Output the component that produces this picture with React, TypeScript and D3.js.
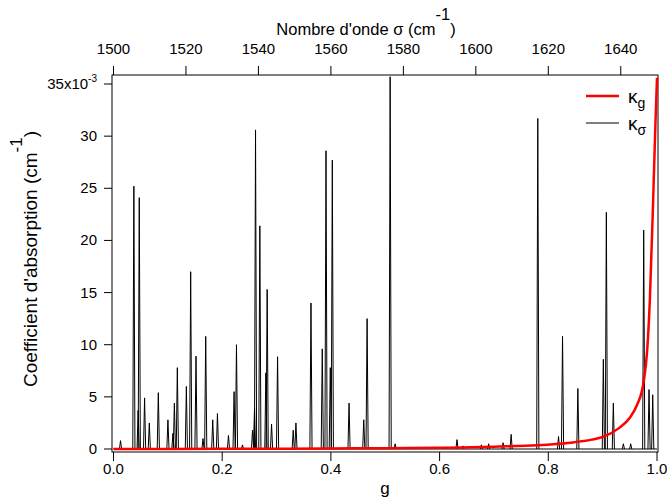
import React from 'react';
import * as d3 from 'd3';

// Absorption lines: wavenumber (cm-1) and peak value (x1e-3 cm-1)
const peakSigma = [
  1501.94, 1505.62, 1506.8, 1507.11, 1508.58, 1509.88, 1512.37, 1515.02, 1516.4, 1516.8,
  1517.62, 1520.11, 1521.3, 1522.77, 1524.7, 1525.45, 1527.39, 1528.69, 1531.73, 1533.28,
  1533.94, 1535.6, 1538.37, 1538.92, 1539.2, 1540.39, 1542.05, 1542.41, 1543.62, 1545.28,
  1549.6, 1550.35, 1554.5, 1557.62, 1558.65, 1559.83, 1560.39, 1565.01, 1569.07, 1569.99,
  1576.35, 1577.73, 1592.03, 1594.8, 1596.46, 1601.52, 1603.54, 1607.52, 1609.74, 1617.1,
  1622.82, 1623.93, 1628.16, 1635.19, 1636.02, 1637.95, 1640.72, 1642.74, 1646.33, 1647.8,
  1648.82,
];
const peakValue = [
  0.8, 25.2, 3.7, 24.1, 4.9, 2.5, 5.4, 2.8, 1.5, 4.4,
  7.8, 6.0, 17.0, 8.9, 1.0, 10.8, 2.8, 3.4, 1.3, 5.5,
  10.0, 0.4, 1.8, 4.0, 30.6, 21.4, 7.3, 15.3, 2.4, 8.85,
  1.8, 2.5, 14.0, 9.6, 28.6, 7.8, 27.7, 4.4, 2.8, 12.5,
  35.7, 0.5, 0.2, 0.9, 0.3, 0.4, 0.5, 0.6, 1.4, 31.7,
  1.2, 10.8, 5.8, 8.6, 22.7, 4.4, 0.5, 0.5, 21.0, 5.7,
  5.2,
];

// k-distribution curve (reordered absorption vs cumulative g)
const kgG = [0, 0.2, 0.4, 0.5, 0.6, 0.66, 0.7, 0.78, 0.84, 0.88, 0.9, 0.93, 0.95, 0.963, 0.975, 0.982, 0.987, 0.993, 0.997, 1.0];
const kgK = [0, 0.02, 0.05, 0.08, 0.12, 0.16, 0.22, 0.35, 0.6, 0.9, 1.15, 2.0, 3.0, 4.2, 6.3, 9.5, 14.5, 24, 31, 35.6];

const gTicks = [0, 0.2, 0.4, 0.6, 0.8, 1.0];
const sigmaTicks = [1500, 1520, 1540, 1560, 1580, 1600, 1620, 1640];
const kTicks = [0, 5, 10, 15, 20, 25, 30, 35];

const FONT = "'Liberation Sans', Arial, Helvetica, sans-serif";

export default function App() {
  const W = 667, H = 498;
  const fL = 112, fR = 658, fT = 75, fB = 452;
  const xg = d3.scaleLinear().domain([0, 1]).range([113.5, 657]);
  const xs = d3.scaleLinear().domain([1500, 1650]).range([113.5, 657]);
  const y = d3.scaleLinear().domain([0, 35]).range([449, 84]);

  const halfW = 0.3;
  const line = d3.line<[number, number]>().x(d => xs(d[0])).y(d => y(d[1]));
  const base = line([[1500, 0], [1650, 0]]) || '';
  const peaks = peakSigma.map((s, i) => line([[s - halfW, 0], [s, peakValue[i]], [s + halfW, 0]]) || '').join('');

  const redLine = d3.line<number>()
    .x((_, i) => xg(kgG[i]))
    .y(d => y(d))
    .curve(d3.curveMonotoneX);
  const redPath = redLine(kgK) || '';

  const fs = 15;

  return (
    <svg width={W} height={H} style={{ position: 'absolute', left: 0, top: 0, background: '#fff' }} fontFamily={FONT}>
      <rect x={0} y={0} width={W} height={H} fill="#fff" />
      <defs>
        <clipPath id="clip">
          <rect x={fL} y={fT - 3} width={fR - fL + 2} height={fB - fT + 3} />
        </clipPath>
      </defs>
      {/* frame */}
      <rect x={fL} y={fT} width={fR - fL} height={fB - fT} fill="none" stroke="#000" strokeWidth={1} />

      {/* data */}
      <g clipPath="url(#clip)">
        <path d={base} fill="none" stroke="#000" strokeWidth={1} />
        <path d={peaks} fill="none" stroke="#000" strokeWidth={1} strokeLinejoin="round" />
        <path d={redPath} fill="none" stroke="#ff0000" strokeWidth={2.5} />
      </g>

      {/* left axis */}
      {kTicks.map(t => (
        <g key={'k' + t}>
          <line x1={fL - 8} x2={fL} y1={y(t)} y2={y(t)} stroke="#000" />
          {t === 35 ? (
            <text x={97} y={y(t) + 5} textAnchor="end" fontSize={fs}>
              35x10<tspan dy={-7} fontSize={10}>-3</tspan>
            </text>
          ) : (
            <text x={97} y={y(t) + 5} textAnchor="end" fontSize={fs}>{t}</text>
          )}
        </g>
      ))}

      {/* bottom axis */}
      {gTicks.map(t => (
        <g key={'g' + t}>
          <line x1={xg(t)} x2={xg(t)} y1={fB} y2={fB + 9} stroke="#000" />
          <text x={xg(t)} y={474} textAnchor="middle" fontSize={fs}>{t.toFixed(1)}</text>
        </g>
      ))}
      <text x={385} y={494} textAnchor="middle" fontSize={17}>g</text>

      {/* top axis */}
      {sigmaTicks.map(t => (
        <g key={'s' + t}>
          <line x1={xs(t)} x2={xs(t)} y1={fT - 9} y2={fT} stroke="#000" />
          <text x={xs(t)} y={54} textAnchor="middle" fontSize={fs}>{t}</text>
        </g>
      ))}
      <text x={366} y={35} textAnchor="middle" fontSize={16.5}>
        Nombre d'onde σ (cm<tspan dy={-15}>-1</tspan><tspan dy={15}>)</tspan>
      </text>

      {/* y title */}
      <text transform="translate(37,259) rotate(-90)" textAnchor="middle" fontSize={19}>
        Coefficient d'absorption (cm<tspan dy={-15} fontSize={17}>-1</tspan><tspan dy={15}>)</tspan>
      </text>

      {/* legend */}
      <line x1={586} x2={619} y1={96} y2={96} stroke="#ff0000" strokeWidth={2.5} />
      <text x={628} y={103} fontSize={19}>κ<tspan dy={5} fontSize={14}>g</tspan></text>
      <line x1={586} x2={619} y1={123} y2={123} stroke="#000" strokeWidth={1} />
      <text x={628} y={130} fontSize={19}>κ<tspan dy={5} fontSize={14}>σ</tspan></text>
    </svg>
  );
}
